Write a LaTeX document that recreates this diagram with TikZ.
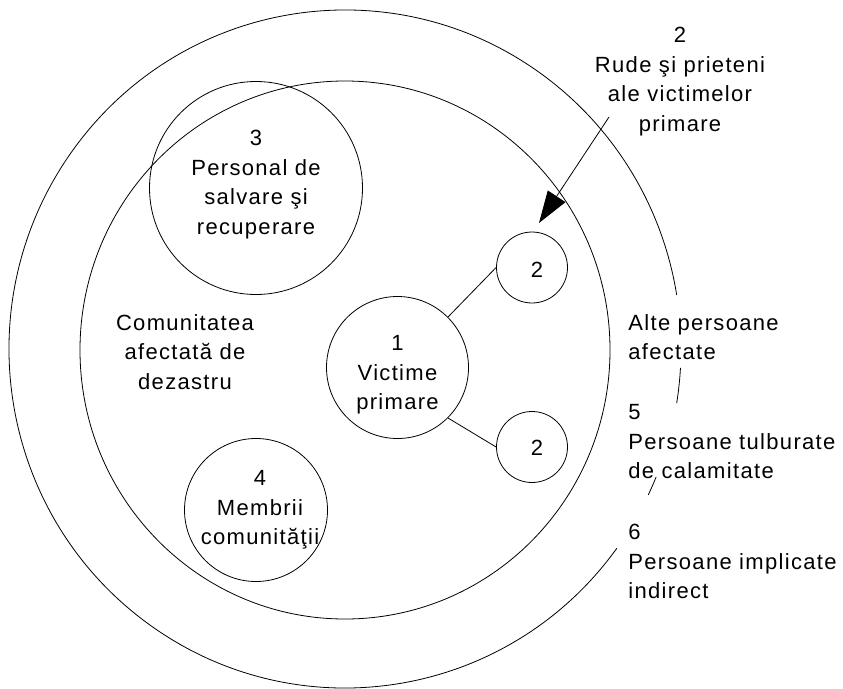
\documentclass[tikz,border=0pt]{standalone}
\usepackage{fontspec}
\setmainfont{Liberation Sans}[LetterSpace=6]
\usetikzlibrary{arrows.meta}

\begin{document}
\begin{tikzpicture}[x=1pt,y=-1pt,line width=0.8pt,
	ring/.style={draw,circle,inner sep=0pt},
	lbl/.style={inner sep=0pt,align=center,font=\fontsize{22}{29.5}\selectfont},
	lbll/.style={lbl,align=left}]
	\useasboundingbox (0,0) rectangle (843,688);

	\draw (345,349) ++(36:336 and 339) arc[start angle=36,end angle=350.8,x radius=336,y radius=339];
	\draw (345,349) ++(3.2:336 and 339) arc[start angle=3.2,end angle=9.2,x radius=336,y radius=339];
	\draw (345,349) ++(22.2:336 and 339) arc[start angle=22.2,end angle=25.5,x radius=336,y radius=339];
	\draw (345,350) ellipse[x radius=265,y radius=269];

	\node[ring,minimum size=213pt] (c3) at (256,188) {};
	\node[ring,minimum size=142pt] (c1) at (397.5,367.5) {};
	\node[ring,minimum size=71pt] (c2a) at (532,267.5) {};
	\node[ring,minimum size=71pt] (c2b) at (532,447) {};
	\node[ring,minimum size=143pt] (c4) at (256,510) {};

	\draw (c1.45) -- (c2a.west);
	\draw (c1.-45) -- (c2b.west);

	\node[lbl,anchor=north] (t3) at (256,130) {3\\Personal de\\salvare şi\\recuperare};
	\node[lbl,anchor=north] (t1) at (397.5,335) {1\\Victime\\primare};
	\node[lbl] (t2a) at (537,270) {2};
	\node[lbl] (t2b) at (537,448) {2};
	\node[lbl,anchor=north] (t4) at (260,470) {4\\Membrii\\comunităţii};
	\node[lbl,anchor=north] (tcom) at (185,314) {Comunitatea\\afectată de\\dezastru};
	\node[lbl,anchor=north] (trude) at (680,27) {2\\Rude şi prieteni\\ale victimelor\\primare};
	\node[lbll,anchor=north west] (talte) at (628,314) {Alte persoane\\afectate};
	\node[lbll,anchor=north west] (t5) at (628,404) {5\\Persoane tulburate\\de calamitate};
	\node[lbll,anchor=north west] (t6) at (628,524) {6\\Persoane implicate\\indirect};

	\coordinate (from) at (609,117);
	\coordinate (to) at (539,223);
	\draw[-{Triangle[length=32pt,width=21pt]}] (from) -- (to);
\end{tikzpicture}
\end{document}
